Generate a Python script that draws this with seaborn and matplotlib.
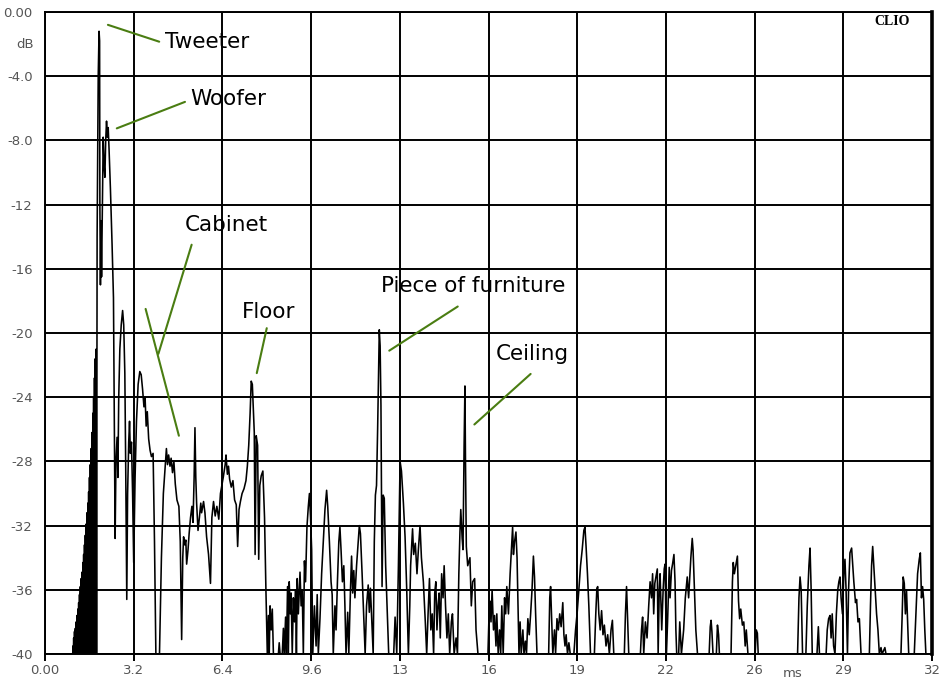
import matplotlib
matplotlib.use("Agg")
import matplotlib.pyplot as plt
import seaborn as sns
import pandas as pd

# ---------------- data (time in ms, level in dB) ----------------
direct_sound = [(0.0, -40), (1.0, -40), (1.01, -39.5), (1.02, -40), (1.035, -39.0), (1.05, -40),
                (1.065, -38.6), (1.08, -40), (1.095, -38.4), (1.11, -40), (1.125, -38.0), (1.14, -40),
                (1.155, -37.6), (1.17, -40), (1.185, -37.2), (1.20, -40), (1.215, -36.8), (1.23, -40),
                (1.245, -36.3), (1.26, -40), (1.275, -35.8), (1.29, -39.5), (1.305, -35.3), (1.32, -40),
                (1.335, -34.9), (1.35, -40), (1.365, -34.3), (1.38, -39.0), (1.395, -33.8), (1.41, -40),
                (1.425, -33.2), (1.44, -40), (1.455, -32.6), (1.47, -38.5), (1.485, -31.9), (1.50, -40),
                (1.515, -31.2), (1.53, -40), (1.545, -30.6), (1.56, -38.0), (1.575, -29.9), (1.59, -40),
                (1.605, -29.0), (1.62, -40), (1.635, -28.2), (1.65, -37.0), (1.665, -27.2), (1.68, -40),
                (1.695, -26.2), (1.71, -40), (1.725, -25.0), (1.74, -36.0), (1.755, -24.0), (1.77, -40),
                (1.785, -22.8), (1.80, -40), (1.815, -21.6), (1.83, -40), (1.845, -21.0), (1.86, -40),
                (1.88, -14.0), (1.92, -4.0), (1.95, -1.2), (1.97, -1.8), (1.98, -12.0), (2.00, -17.0),
                (2.02, -13.0), (2.04, -16.5), (2.07, -12.0), (2.10, -7.8), (2.13, -9.5), (2.16, -10.3),
                (2.19, -8.0), (2.22, -6.8), (2.25, -7.8), (2.28, -7.2), (2.31, -8.5), (2.36, -11.0),
                (2.42, -14.5), (2.47, -17.8), (2.50, -25.0), (2.53, -32.8)]

cabinet = [(2.56, -28.0), (2.60, -26.5), (2.63, -29.0), (2.66, -24.0), (2.70, -21.0), (2.75, -19.5),
           (2.80, -18.6), (2.84, -19.5), (2.88, -22.5), (2.91, -28.0), (2.95, -36.6), (2.98, -30.0),
           (3.02, -26.8), (3.05, -25.5), (3.08, -27.5), (3.12, -26.8), (3.16, -30.0), (3.20, -34.3),
           (3.25, -29.0), (3.30, -25.5), (3.36, -23.2), (3.42, -22.4), (3.47, -22.6), (3.52, -23.5),
           (3.57, -24.6), (3.61, -24.0), (3.65, -25.8), (3.69, -24.9), (3.74, -26.6), (3.79, -27.3),
           (3.84, -27.7), (3.90, -27.5), (3.95, -33.0), (4.00, -40), (4.13, -40), (4.20, -34.0),
           (4.27, -30.0), (4.33, -28.5), (4.38, -27.2), (4.42, -28.2), (4.46, -27.6), (4.51, -28.3),
           (4.55, -27.8), (4.60, -28.7), (4.65, -28.0), (4.70, -29.4), (4.76, -30.4), (4.83, -30.8),
           (4.88, -33.0), (4.93, -39.1), (4.97, -34.0), (5.00, -32.7), (5.04, -33.2), (5.08, -32.9),
           (5.11, -34.4), (5.16, -33.5), (5.20, -32.5), (5.25, -31.5), (5.30, -30.8), (5.34, -31.8),
           (5.38, -29.0), (5.41, -25.9), (5.44, -29.0), (5.47, -30.6), (5.52, -32.3), (5.57, -31.5),
           (5.62, -30.6), (5.65, -31.2), (5.72, -30.5), (5.77, -31.2), (5.83, -32.7), (5.90, -33.8),
           (5.97, -35.6), (6.02, -31.5), (6.08, -30.5), (6.14, -31.4), (6.20, -30.8), (6.27, -31.6),
           (6.33, -30.0), (6.43, -29.0), (6.50, -28.2), (6.53, -27.6), (6.58, -28.8), (6.62, -28.3),
           (6.66, -29.1), (6.72, -29.6), (6.78, -29.2), (6.84, -30.4), (6.90, -30.7), (6.95, -33.3),
           (7.00, -31.0), (7.05, -30.5), (7.11, -30.0), (7.18, -29.7), (7.25, -29.2), (7.30, -28.3)]

floor = [(7.35, -27.0), (7.40, -25.0), (7.44, -23.0), (7.48, -23.2), (7.52, -25.0), (7.55, -26.2),
         (7.58, -33.8), (7.62, -26.4), (7.67, -27.0), (7.71, -34.1), (7.75, -29.5), (7.80, -28.9),
         (7.86, -28.6), (7.92, -31.5), (7.97, -36.0), (8.02, -40), (8.06, -37.6), (8.09, -40),
         (8.12, -37.0), (8.16, -38.5), (8.20, -37.2), (8.24, -40), (8.42, -40), (8.45, -39.3),
         (8.48, -40), (8.56, -40), (8.60, -38.4), (8.63, -40), (8.68, -37.7), (8.71, -40),
         (8.75, -35.8), (8.78, -40), (8.81, -35.5), (8.85, -37.5), (8.88, -36.2), (8.92, -40),
         (8.96, -36.5), (9.00, -38.0), (9.04, -36.0), (9.07, -40), (9.10, -35.3), (9.14, -37.5),
         (9.20, -34.9), (9.24, -37.0), (9.28, -36.0), (9.32, -40), (9.36, -34.2), (9.40, -35.5),
         (9.45, -32.1), (9.50, -30.8), (9.54, -30.0), (9.58, -31.5), (9.62, -33.5), (9.66, -40),
         (9.72, -37.0), (9.78, -39.5), (9.82, -36.3), (9.86, -40), (9.92, -37.8), (9.98, -35.0),
         (10.04, -33.0), (10.10, -31.0), (10.16, -29.8), (10.20, -30.8), (10.26, -33.0), (10.32, -35.5),
         (10.36, -36.3), (10.40, -40), (10.46, -37.0), (10.50, -38.5), (10.55, -35.5), (10.60, -33.0),
         (10.64, -32.1), (10.68, -33.5), (10.73, -35.5), (10.78, -34.5), (10.82, -37.0), (10.86, -40),
         (10.92, -37.4), (10.96, -40), (11.02, -36.0), (11.06, -33.9), (11.10, -36.2), (11.14, -34.8),
         (11.18, -36.5), (11.24, -34.5), (11.28, -33.5), (11.34, -32.0), (11.38, -32.5), (11.44, -35.0),
         (11.50, -37.8), (11.55, -40), (11.60, -37.0), (11.66, -35.7), (11.70, -37.4), (11.74, -35.9),
         (11.79, -38.0), (11.84, -40)]

furniture = [(11.88, -33.0), (11.92, -30.1), (11.96, -29.5), (12.00, -26.0), (12.03, -23.0), (12.06, -19.8),
             (12.09, -20.8), (12.12, -24.5), (12.16, -35.8), (12.20, -30.1), (12.24, -30.3), (12.29, -34.5),
             (12.33, -36.5), (12.40, -40), (12.58, -40), (12.63, -37.7), (12.69, -40), (12.75, -34.5),
             (12.81, -28.0), (12.86, -28.6), (12.93, -30.6), (12.99, -32.7), (13.05, -36.0), (13.11, -40),
             (13.16, -37.0), (13.19, -34.5), (13.26, -32.2), (13.30, -33.8), (13.36, -33.1), (13.42, -35.0),
             (13.47, -33.5), (13.53, -32.0), (13.58, -34.0), (13.65, -35.5), (13.72, -38.0), (13.77, -40),
             (13.82, -37.5), (13.87, -35.3), (13.92, -38.5), (13.97, -37.5), (14.02, -40), (14.06, -36.2),
             (14.10, -35.5), (14.14, -38.5), (14.18, -37.0), (14.22, -36.2), (14.26, -39.0), (14.31, -35.0),
             (14.36, -36.5), (14.40, -34.5), (14.45, -37.0), (14.50, -39.0), (14.55, -37.5), (14.60, -40),
             (14.66, -38.0), (14.70, -37.5), (14.76, -40), (14.83, -39.0), (14.88, -40)]

ceiling = [(14.93, -35.0), (14.97, -32.4), (15.00, -31.0), (15.05, -32.8), (15.08, -33.5), (15.12, -27.0),
           (15.15, -23.3), (15.17, -28.0), (15.20, -33.3), (15.25, -34.5), (15.33, -34.0), (15.38, -37.0),
           (15.43, -35.5), (15.50, -35.3), (15.55, -38.5), (15.62, -40), (15.98, -40), (16.02, -37.5),
           (16.05, -36.7), (16.09, -38.0), (16.13, -36.0), (16.18, -38.5), (16.22, -37.6), (16.27, -39.5),
           (16.30, -37.5), (16.35, -40), (16.40, -38.5), (16.44, -40), (16.48, -37.0), (16.53, -40),
           (16.58, -36.5), (16.62, -37.5), (16.66, -35.8), (16.72, -37.5), (16.78, -35.0), (16.84, -33.0),
           (16.87, -32.1), (16.90, -33.8), (16.94, -33.0), (16.99, -32.4), (17.03, -34.0), (17.06, -36.5),
           (17.10, -40), (17.14, -38.0), (17.18, -40), (17.24, -38.5), (17.28, -40), (17.33, -39.2),
           (17.37, -40), (17.42, -37.8), (17.47, -38.8), (17.52, -37.5), (17.57, -36.0), (17.62, -33.9),
           (17.66, -35.2), (17.70, -37.5), (17.75, -40)]

late_tail = [(18.17, -40), (18.21, -36.5), (18.24, -35.8), (18.28, -38.0), (18.32, -40), (18.38, -38.5),
             (18.42, -40), (18.47, -37.8), (18.52, -38.5), (18.57, -37.5), (18.62, -38.3), (18.68, -36.8),
             (18.72, -38.8), (18.76, -39.5), (18.80, -38.8), (18.85, -40), (18.90, -39.3), (18.95, -40),
             (19.08, -40), (19.14, -38.5), (19.20, -37.4), (19.26, -36.0), (19.32, -34.5), (19.38, -33.5),
             (19.44, -32.3), (19.48, -32.1), (19.52, -33.3), (19.57, -35.0), (19.62, -37.0), (19.68, -40),
             (19.82, -40), (19.87, -37.5), (19.91, -35.9), (19.94, -35.8), (19.98, -37.5), (20.03, -38.5),
             (20.08, -37.3), (20.13, -38.8), (20.18, -38.2), (20.24, -39.5), (20.30, -38.8), (20.36, -40),
             (20.42, -38.5), (20.47, -37.9), (20.52, -40), (20.90, -40), (20.94, -37.5), (20.98, -35.8),
             (21.02, -38.0), (21.06, -40), (21.48, -40), (21.52, -38.5), (21.56, -37.7), (21.60, -40),
             (21.66, -38.0), (21.72, -39.0), (21.78, -37.0), (21.83, -35.5), (21.88, -36.5), (21.92, -35.0),
             (21.96, -37.5), (22.00, -35.6), (22.04, -35.2), (22.09, -34.7), (22.12, -40), (22.16, -36.0),
             (22.19, -35.0), (22.25, -38.5), (22.30, -36.0), (22.34, -34.7), (22.37, -34.4), (22.42, -40),
             (22.46, -38.0), (22.52, -34.6), (22.55, -36.5), (22.60, -34.8), (22.64, -34.4), (22.69, -33.8),
             (22.73, -35.5), (22.76, -38.5), (22.79, -40), (22.86, -40), (22.90, -38.0), (22.96, -40),
             (23.04, -38.5), (23.10, -36.5), (23.17, -35.2), (23.22, -36.5), (23.30, -34.0), (23.35, -32.8),
             (23.38, -33.5), (23.43, -36.0), (23.48, -38.5), (23.54, -40), (23.96, -40), (24.00, -38.3),
             (24.03, -37.9), (24.06, -38.6), (24.10, -40), (24.22, -40), (24.26, -38.2), (24.30, -38.8),
             (24.33, -40), (24.75, -40), (24.80, -35.5), (24.83, -34.3), (24.87, -35.0), (24.92, -34.5),
             (24.98, -33.9), (25.02, -36.7), (25.06, -37.8), (25.10, -37.2), (25.16, -38.2), (25.21, -38.0),
             (25.26, -39.5), (25.30, -38.5), (25.36, -40), (25.62, -40), (25.66, -38.5), (25.70, -38.7),
             (25.73, -40), (27.15, -40), (27.20, -36.5), (27.24, -35.2), (27.28, -36.0), (27.33, -40),
             (27.45, -40), (27.50, -37.0), (27.56, -34.5), (27.60, -33.4), (27.64, -36.0), (27.68, -40),
             (27.85, -40), (27.90, -38.3), (27.94, -40), (28.18, -40), (28.22, -38.5), (28.27, -37.8),
             (28.32, -37.6), (28.36, -39.0), (28.40, -37.5), (28.45, -39.5), (28.50, -40), (28.55, -37.5),
             (28.60, -36.0), (28.64, -35.5), (28.68, -35.2), (28.72, -36.5), (28.77, -37.5), (28.82, -35.0),
             (28.86, -34.1), (28.90, -36.0), (28.95, -40), (28.99, -36.0), (29.04, -33.7), (29.10, -33.4),
             (29.14, -34.5), (29.18, -35.5), (29.24, -36.8), (29.28, -36.6), (29.33, -38.0), (29.38, -37.8),
             (29.44, -40), (29.74, -40), (29.78, -37.0), (29.82, -34.5), (29.86, -33.3), (29.90, -34.5),
             (29.95, -35.9), (30.00, -37.5), (30.05, -38.5), (30.10, -40), (30.16, -39.6), (30.20, -40),
             (30.30, -39.6), (30.34, -40), (30.88, -40), (30.92, -37.8), (30.96, -35.2), (31.00, -35.6),
             (31.04, -37.5), (31.08, -36.0), (31.12, -38.0), (31.16, -40), (31.36, -40), (31.42, -37.5),
             (31.48, -35.0), (31.54, -34.1), (31.58, -33.7), (31.62, -36.5), (31.66, -35.8), (31.70, -36.6),
             (31.74, -38.5), (31.78, -40), (32.0, -40)]

x_ticks = [0.0, 3.2, 6.4, 9.6, 12.8, 16.0, 19.2, 22.4, 25.6, 28.8, 32.0]
x_tick_labels = ["0.00", "3.2", "6.4", "9.6", "13", "16", "19", "22", "26", "29", "32"]
y_ticks = [0, -4, -8, -12, -16, -20, -24, -28, -32, -36, -40]
y_tick_labels = ["0.00", "-4.0", "-8.0", "-12", "-16", "-20", "-24", "-28", "-32", "-36", "-40"]

# label text, text position, leader line(s)
labels = ["Tweeter", "Woofer", "Cabinet", "Floor", "Piece of furniture", "Ceiling"]
label_pos = [(4.33, -1.85), (5.23, -5.45), (6.55, -13.3), (8.06, -18.7), (15.45, -17.1), (17.59, -21.3)]
label_ha = ["left", "left", "center", "center", "center", "center"]
leader_lines = [
    [((2.27, -0.8), (4.12, -1.85))],
    [((2.59, -7.25), (5.05, -5.6))],
    [((5.29, -14.5), (4.09, -21.3)), ((3.63, -18.5), (4.83, -26.4))],
    [((8.0, -19.7), (7.64, -22.5))],
    [((14.89, -18.35), (12.42, -21.1))],
    [((17.52, -22.55), (15.49, -25.7))],
]

# ---------------- build frame ----------------
points = direct_sound + cabinet + floor + furniture + ceiling + late_tail
df = pd.DataFrame(points, columns=["time_ms", "level_db"])

sns.set_theme(style="white")
plt.rcParams["font.family"] = ["DejaVu Sans"]

fig = plt.figure(figsize=(9.39, 6.84), dpi=100)
ax = fig.add_axes([45 / 939, 1 - 654 / 684, 887 / 939, 642 / 684])

sns.lineplot(data=df, x="time_ms", y="level_db", ax=ax, color="black", lw=1.15,
             estimator=None, sort=False, zorder=3)

ax.set_xlim(0, 32)
ax.set_ylim(-40, 0)
ax.set_xticks(x_ticks)
ax.set_xticklabels(x_tick_labels)
ax.set_yticks(y_ticks)
ax.set_yticklabels(y_tick_labels)
ax.set_xlabel("")
ax.set_ylabel("")
ax.grid(True, color="black", lw=1.4)
ax.tick_params(axis="x", length=5, width=1.4, color="black", pad=2, labelsize=9.5, labelcolor="#555555", direction="out", bottom=True)
ax.tick_params(axis="y", length=0, pad=9, labelsize=9.5, labelcolor="#555555", left=True)
for side in ["left", "bottom", "top"]:
    ax.spines[side].set_color("black")
    ax.spines[side].set_linewidth(1.4)
ax.spines["right"].set_color("black")
ax.spines["right"].set_linewidth(2.6)

green = "#4a7d12"
for text, (tx, ty), ha, segs in zip(labels, label_pos, label_ha, leader_lines):
    ax.text(tx, ty, text, ha=ha, va="center", fontsize=15.5, color="black", zorder=5)
    for (x0, y0), (x1, y1) in segs:
        ax.plot([x0, x1], [y0, y1], color=green, lw=1.5, zorder=4)

ax.text(30.56, -0.62, "CLIO", ha="center", va="center", fontsize=10,
        fontweight="bold", family="Liberation Serif", color="black")
ax.text(-0.0225, 0.9486, "dB", transform=ax.transAxes, ha="center", va="center",
        fontsize=9.5, color="#555555")
ax.text(0.843, -0.031, "ms", transform=ax.transAxes, ha="center", va="center",
        fontsize=9.5, color="#555555")

fig.savefig("out.png", dpi=100, facecolor="white")
